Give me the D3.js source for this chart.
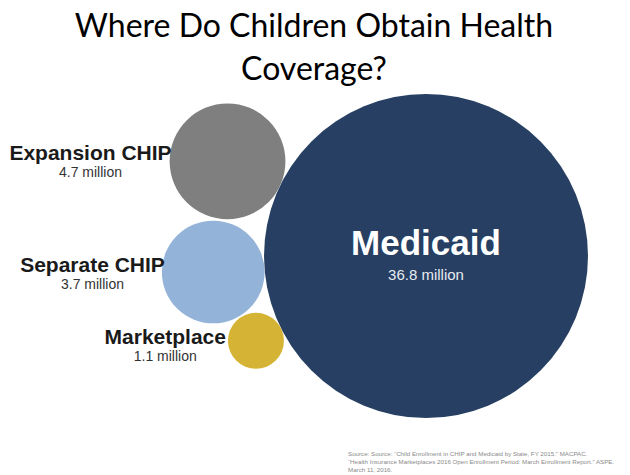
<!DOCTYPE html>
<html>
<head>
<meta charset="utf-8">
<script src="https://cdn.jsdelivr.net/npm/d3@7"></script>
<style>
  body { margin: 0; background: #fff; }
</style>
</head>
<body>
<div id="app"></div>
<script>
// data (millions of children)
let categories = ["Medicaid", "Expansion CHIP", "Separate CHIP", "Marketplace"];
let values = [36.8, 4.7, 3.7, 1.1];
let valueLabels = ["36.8 million", "4.7 million", "3.7 million", "1.1 million"];

let sourceLines = [
  "Source: Source: \u201cChild Enrollment in CHIP and Medicaid by State, FY 2015.\u201d MACPAC.",
  "\u201cHealth Insurance Marketplaces 2016 Open Enrollment Period: March Enrollment Report.\u201d ASPE.",
  "March 11, 2016."
];

// layout: small bubbles sit tangent to the big one, at these angles (deg)
let angles = [null, 205.5, 175.7, 153.5];
let colors = ["#263f62", "#7f7f7f", "#93b3d9", "#d5b435"];

var width = 630,
  height = 475;

let svg = d3
  .select("#app")
  .append("svg")
  .attr("width", width)
  .attr("height", height)
  .attr("style", "background-color:#ffffff");

// title
let title = svg
  .append("text")
  .attr("text-anchor", "middle")
  .attr("font-family", "Lato, 'Open Sans', sans-serif")
  .attr("font-size", 32)
  .attr("fill", "#000");
title.append("tspan").attr("x", 314).attr("y", 37).text("Where Do Children Obtain Health");
title.append("tspan").attr("x", 314).attr("y", 80).text("Coverage?");

let r = d3.scaleSqrt().domain([0, d3.max(values)]).range([0, 162]);

let cx0 = 426,
  cy0 = 256;

let nodes = values.map((v, i) => {
  let rad = r(v);
  if (i === 0) return { i: i, r: rad, x: cx0, y: cy0 };
  let a = (angles[i] * Math.PI) / 180;
  let d = r(values[0]) + rad;
  return { i: i, r: rad, x: cx0 + d * Math.cos(a), y: cy0 + d * Math.sin(a) };
});

svg
  .append("g")
  .selectAll("circle")
  .data(nodes)
  .enter()
  .append("circle")
  .attr("cx", (d) => d.x)
  .attr("cy", (d) => d.y)
  .attr("r", (d) => d.r)
  .attr("fill", (d) => colors[d.i]);

// medicaid label inside bubble
svg
  .append("text")
  .attr("x", nodes[0].x)
  .attr("y", nodes[0].y - 1)
  .attr("text-anchor", "middle")
  .attr("font-family", "'Liberation Sans', Arial, sans-serif")
  .attr("font-weight", "bold")
  .attr("font-size", 35)
  .attr("fill", "#ffffff")
  .text(categories[0]);

svg
  .append("text")
  .attr("x", nodes[0].x)
  .attr("y", nodes[0].y + 24)
  .attr("text-anchor", "middle")
  .attr("font-family", "'Liberation Sans', Arial, sans-serif")
  .attr("font-size", 15)
  .attr("fill", "#e6ebf2")
  .text(valueLabels[0]);

// side labels, right edge tucked against the bubble
let nameDy = [0, -1, 0, 3];
let nameDx = [0, 2, 3, -2];
nodes.slice(1).forEach((d) => {
  let g = svg.append("g");
  let xr = d.x - d.r + nameDx[d.i];
  let name = g
    .append("text")
    .attr("x", xr)
    .attr("y", d.y + nameDy[d.i])
    .attr("text-anchor", "end")
    .attr("font-family", "'Liberation Sans', Arial, sans-serif")
    .attr("font-weight", "bold")
    .attr("font-size", 21)
    .attr("fill", "#1a1a1a")
    .text(categories[d.i]);
  let w = name.node().getComputedTextLength();
  g.append("text")
    .attr("x", xr - w / 2)
    .attr("y", d.y + nameDy[d.i] + 17)
    .attr("text-anchor", "middle")
    .attr("font-family", "'Liberation Sans', Arial, sans-serif")
    .attr("font-size", 14)
    .attr("fill", "#333333")
    .text(valueLabels[d.i]);
});

// source note
svg
  .append("g")
  .selectAll("text")
  .data(sourceLines)
  .enter()
  .append("text")
  .attr("x", 348)
  .attr("y", (d, i) => 456 + i * 8.2)
  .attr("font-family", "'Liberation Sans', Arial, sans-serif")
  .attr("font-size", 6.2)
  .attr("fill", "#8a8a8a")
  .text((d) => d);
</script>
</body>
</html>
